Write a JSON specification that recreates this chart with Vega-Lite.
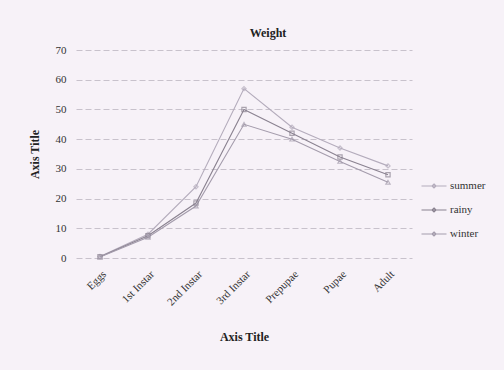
{
  "$schema": "https://vega.github.io/schema/vega-lite/v6.json",
  "autosize": "none",
  "width": 336,
  "height": 208,
  "padding": {"left": 76, "top": 50, "right": 92, "bottom": 112},
  "background": "#f7f2f8",
  "title": {"text": "Weight", "font": "Liberation Serif", "fontSize": 12, "fontWeight": "bold", "color": "#222", "offset": 4, "dx": 24, "anchor": "middle"},
  "data": {"values": [
    {"stage": "Eggs", "season": "summer", "w": 0.5},
    {"stage": "1st Instar", "season": "summer", "w": 8},
    {"stage": "2nd Instar", "season": "summer", "w": 24},
    {"stage": "3rd Instar", "season": "summer", "w": 57},
    {"stage": "Prepupae", "season": "summer", "w": 44},
    {"stage": "Pupae", "season": "summer", "w": 37},
    {"stage": "Adult", "season": "summer", "w": 31},
    {"stage": "Eggs", "season": "rainy", "w": 0.4},
    {"stage": "1st Instar", "season": "rainy", "w": 7.5},
    {"stage": "2nd Instar", "season": "rainy", "w": 18.5},
    {"stage": "3rd Instar", "season": "rainy", "w": 50},
    {"stage": "Prepupae", "season": "rainy", "w": 42},
    {"stage": "Pupae", "season": "rainy", "w": 34},
    {"stage": "Adult", "season": "rainy", "w": 28},
    {"stage": "Eggs", "season": "winter", "w": 0.3},
    {"stage": "1st Instar", "season": "winter", "w": 7},
    {"stage": "2nd Instar", "season": "winter", "w": 17.5},
    {"stage": "3rd Instar", "season": "winter", "w": 45},
    {"stage": "Prepupae", "season": "winter", "w": 40},
    {"stage": "Pupae", "season": "winter", "w": 32.5},
    {"stage": "Adult", "season": "winter", "w": 25.5}
  ]},
  "encoding": {
    "x": {"field": "stage", "type": "nominal", "sort": ["Eggs", "1st Instar", "2nd Instar", "3rd Instar", "Prepupae", "Pupae", "Adult"],
      "scale": {"type": "point", "padding": 0.5},
      "axis": {"title": "Axis Title", "titleFont": "Liberation Serif", "titleFontSize": 12, "titleFontWeight": "bold", "titleColor": "#222", "titlePadding": 24,
        "labelFont": "Liberation Serif", "labelFontSize": 11, "labelColor": "#333", "labelAngle": -45, "labelPadding": 10,
        "domain": false, "ticks": false, "grid": false}},
    "y": {"field": "w", "type": "quantitative", "scale": {"domain": [0, 70]},
      "axis": {"title": "Axis Title", "titleFont": "Liberation Serif", "titleFontSize": 12, "titleFontWeight": "bold", "titleColor": "#222", "titlePadding": 14,
        "labelFont": "Liberation Serif", "labelFontSize": 11, "labelColor": "#333", "labelPadding": 10, "values": [0, 10, 20, 30, 40, 50, 60, 70],
        "domain": false, "ticks": false, "grid": true, "gridColor": "#c8c2cc", "gridDash": [6, 3], "gridWidth": 1}}
  },
  "layer": [
    {"mark": {"type": "line", "strokeWidth": 1.1},
      "encoding": {"color": {"field": "season", "type": "nominal", "sort": ["summer", "rainy", "winter"],
        "scale": {"domain": ["summer", "rainy", "winter"], "range": ["#b4acbc", "#8a8290", "#a49cac"]},
        "legend": {"title": null, "orient": "none", "legendX": 352, "legendY": 130, "labelFont": "Liberation Serif", "labelFontSize": 11, "labelColor": "#333",
          "symbolType": "M-2.5,0H2.5M0,-0.4L0.4,0L0,0.4L-0.4,0Z", "symbolSize": 100, "symbolStrokeWidth": 1.2, "rowPadding": 13, "labelOffset": 10}}}},
    {"mark": {"type": "point", "size": 18, "filled": false, "strokeWidth": 1.2},
      "encoding": {
        "stroke": {"field": "season", "type": "nominal", "scale": {"domain": ["summer", "rainy", "winter"], "range": ["#b4acbc", "#8a8290", "#a49cac"]}, "legend": null},
        "shape": {"field": "season", "type": "nominal", "scale": {"domain": ["summer", "rainy", "winter"], "range": ["diamond", "square", "triangle-up"]}, "legend": null}}}
  ],
  "resolve": {"legend": {"shape": "independent", "color": "independent", "stroke": "independent"}},
  "config": {"view": {"stroke": null}}
}
